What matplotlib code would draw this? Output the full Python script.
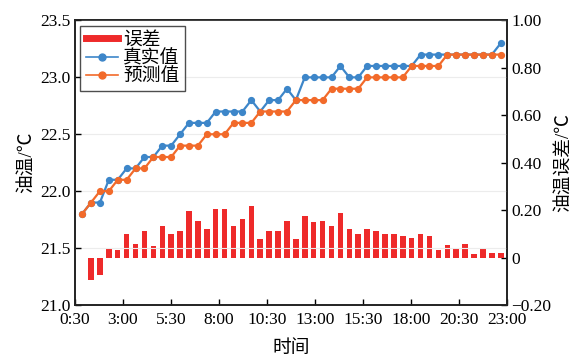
import numpy as np
import matplotlib
matplotlib.use("Agg")
import matplotlib.pyplot as plt
from matplotlib.lines import Line2D

plt.rcParams['font.family'] = ['Liberation Serif', 'Noto Sans CJK SC', 'DejaVu Sans']
plt.rcParams['axes.unicode_minus'] = True

# Oil temperature, measured and predicted (°C), one sample per step
real_temp = [21.8, 21.9, 21.9, 22.1, 22.1, 22.2, 22.2, 22.3, 22.3, 22.4,
             22.4, 22.5, 22.6, 22.6, 22.6, 22.7, 22.7, 22.7, 22.7, 22.8,
             22.7, 22.8, 22.8, 22.9, 22.8, 23.0, 23.0, 23.0, 23.0, 23.1,
             23.0, 23.0, 23.1, 23.1, 23.1, 23.1, 23.1, 23.1, 23.2, 23.2,
             23.2, 23.2, 23.2, 23.2, 23.2, 23.2, 23.2, 23.3]
pred_temp = [21.8, 21.9, 22.0, 22.0, 22.1, 22.1, 22.2, 22.2, 22.3, 22.3,
             22.3, 22.4, 22.4, 22.4, 22.5, 22.5, 22.5, 22.6, 22.6, 22.6,
             22.7, 22.7, 22.7, 22.7, 22.8, 22.8, 22.8, 22.8, 22.9, 22.9,
             22.9, 22.9, 23.0, 23.0, 23.0, 23.0, 23.0, 23.1, 23.1, 23.1,
             23.1, 23.2, 23.2, 23.2, 23.2, 23.2, 23.2, 23.2]
# Prediction error (°C)
error = [0.0, -0.096, -0.075, 0.040, 0.030, 0.100, 0.057, 0.112, 0.050, 0.134,
         0.100, 0.112, 0.197, 0.155, 0.121, 0.206, 0.206, 0.134, 0.162, 0.216,
         0.080, 0.112, 0.112, 0.154, 0.080, 0.175, 0.148, 0.155, 0.135, 0.187,
         0.121, 0.100, 0.121, 0.113, 0.100, 0.100, 0.092, 0.081, 0.100, 0.092,
         0.032, 0.051, 0.042, 0.057, 0.013, 0.042, 0.021, 0.021]

time_labels = ['0:30', '3:00', '5:30', '8:00', '10:30', '13:00',
               '15:30', '18:00', '20:30', '23:00']
left_ticks = [21.0, 21.5, 22.0, 22.5, 23.0, 23.5]
right_ticks = [-0.20, 0, 0.20, 0.40, 0.60, 0.80, 1.00]
right_labels = ['\u22120.20', '0', '0.20', '0.40', '0.60', '0.80', '1.00']

BLUE = '#3d86c9'
ORANGE = '#f26a2a'
RED = '#ee2a2a'
FS = 12.5
FS_LABEL = 13.5

x = np.arange(len(real_temp))

fig = plt.figure(figsize=(5.75, 3.62), dpi=100)
ax = fig.add_axes([0.1304, 0.1575, 0.7513, 0.786])
ax2 = ax.twinx()

ax.set_zorder(2)
ax.patch.set_visible(False)
ax2.set_zorder(1)

ax2.bar(x, error, width=0.62, color=RED, zorder=2)
ax.plot(x, real_temp, color=BLUE, marker='o', markersize=4.2, linewidth=1.6, zorder=3)
ax.plot(x, pred_temp, color=ORANGE, marker='o', markersize=4.2, linewidth=1.6, zorder=4)

xlim = (-0.8, 47.7)
ax.set_xlim(*xlim)
ax.set_xticks(np.linspace(xlim[0], xlim[1], len(time_labels)))
ax.set_xticklabels(time_labels, fontsize=FS)

ax.set_ylim(21.0, 23.5)
ax.set_yticks(left_ticks)
ax.set_yticklabels([f'{v:.1f}' for v in left_ticks], fontsize=FS)
ax.yaxis.grid(True, color='#ececec', linewidth=0.8)
ax.set_axisbelow(True)

ax2.set_ylim(-0.20, 1.00)
ax2.set_yticks(right_ticks)
ax2.set_yticklabels(right_labels, fontsize=FS)

for a in (ax, ax2):
    a.tick_params(direction='in', length=4, width=1.0, pad=3)
    for s in a.spines.values():
        s.set_linewidth(1.2)
        s.set_color('#222222')
ax.tick_params(axis='x', pad=5)

ax.set_ylabel('油温/℃', fontsize=FS_LABEL, labelpad=4)
ax2.set_ylabel('油温误差/℃', fontsize=FS_LABEL, labelpad=3)
ax.set_xlabel('时间', fontsize=FS_LABEL, labelpad=9)

handles = [Line2D([], [], color=RED, linewidth=5),
           Line2D([], [], color=BLUE, marker='o', markersize=5, linewidth=1.2),
           Line2D([], [], color=ORANGE, marker='o', markersize=5, linewidth=1.2)]
leg = ax.legend(handles, ['误差', '真实值', '预测值'], loc='upper left',
                bbox_to_anchor=(0.012, 0.98), borderaxespad=0, fontsize=FS_LABEL,
                frameon=True, fancybox=False, edgecolor='#222222',
                handlelength=1.7, handletextpad=0.3, labelspacing=0.05,
                borderpad=0.3)
leg.get_frame().set_linewidth(1.0)

fig.savefig('out.png', dpi=100)
